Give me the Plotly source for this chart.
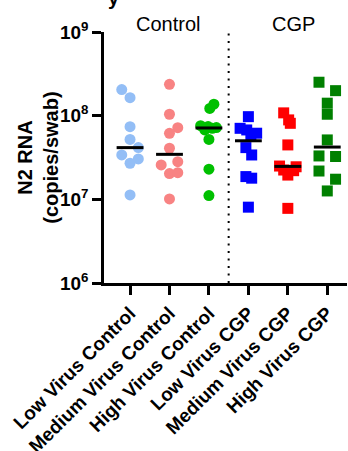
import numpy as np
import plotly.graph_objects as go

categories = ["Low Virus Control", "Medium Virus Control", "High Virus Control",
              "Low Virus CGP", "Medium Virus CGP", "High Virus CGP"]

low_control = [2.05e8, 1.64e8, 7.39e7, 5.2e7, 4.15e7, 3.39e7, 3.04e7, 2.70e7, 1.13e7]
medium_control = [2.37e8, 1.04e8, 7.19e7, 6.16e7, 4.08e7, 2.58e7, 2.82e7, 2.03e7, 2.08e7, 1.01e7]
high_control = [1.37e8, 1.22e8, 7.6e7, 7.4e7, 7.2e7, 7.06e7, 6.75e7, 5.2e7, 2.29e7, 1.11e7]
low_cgp = [9.73e7, 7.06e7, 6.75e7, 6.17e7, 5.87e7, 4.15e7, 3.39e7, 1.87e7, 1.79e7, 8.06e6]
medium_cgp = [1.08e8, 8.9e7, 8.1e7, 4.47e7, 2.5e7, 2.45e7, 2.24e7, 2.2e7, 1.95e7, 7.8e6]
high_cgp = [2.51e8, 1.99e8, 1.41e8, 1.04e8, 5.13e7, 3.3e7, 3.25e7, 2.18e7, 1.74e7, 1.26e7]

series = [low_control, medium_control, high_control, low_cgp, medium_cgp, high_cgp]

# horizontal dodge slots (layout)
slots = [
    [-1, 0, 0, 0, 1, -1, 1, 0, 0],
    [0, 0, 1, 0, 0, -1, 1, 0, 1, 0],
    [0.6, 0.1, -1, -0.1, 0.9, 0.4, -0.5, 0, 0, 0],
    [0, -1, -0.2, 1, 0.3, -0.3, 0.4, -0.3, 0.4, 0],
    [-0.5, 0.1, 0.3, 0, -1, 1, -0.5, 0.7, 0, 0],
    [-1, 1, 0, 0, 0, -1, 1, -1, 1, 0],
]
slot_w = 0.21

colors = ["#93BEF6", "#F88383", "#00C000", "#0000FF", "#FF0000", "#008000"]
symbols = ["circle", "circle", "circle", "square", "square", "square"]

fig = go.Figure()
for i, (vals, sl) in enumerate(zip(series, slots)):
    xs = [i + s * slot_w for s in sl]
    fig.add_trace(go.Scatter(
        x=xs, y=vals, mode="markers",
        marker=dict(symbol=symbols[i], size=11, color=colors[i], line=dict(width=0)),
        showlegend=False, hoverinfo="y"))
for i, vals in enumerate(series):
    med = float(np.median(vals))
    fig.add_trace(go.Scatter(
        x=[i - 0.34, i + 0.34], y=[med, med], mode="lines",
        line=dict(color="black", width=3), showlegend=False, hoverinfo="skip"))

fig.add_shape(type="line", xref="x", yref="paper", x0=2.5, x1=2.5, y0=0, y1=1.016,
              line=dict(color="black", width=2, dash="2px,5.5px"))

font_family = "Liberation Sans, Arial, sans-serif"
fig.add_annotation(text="Control", xref="x", yref="paper", x=0.95, y=1.032,
                   xanchor="center", yanchor="middle",
                   showarrow=False, font=dict(size=20, color="black", family=font_family))
fig.add_annotation(text="CGP", xref="x", yref="paper", x=4.15, y=1.032,
                   xanchor="center", yanchor="middle",
                   showarrow=False, font=dict(size=20, color="black", family=font_family))
fig.add_annotation(text="<b>N2 RNA</b><br><b>(copies/swab)</b>", xref="paper", yref="paper",
                   x=-0.275, y=0.5, xanchor="center", yanchor="middle",
                   textangle=-90, showarrow=False,
                   font=dict(size=20, color="black", family=font_family))
fig.add_annotation(text="<b>y</b>", xref="paper", yref="paper", x=0.01, y=1.084,
                   xanchor="left", yanchor="bottom", showarrow=False,
                   font=dict(size=20, color="black", family=font_family))

fig.update_layout(
    width=348, height=451,
    margin=dict(l=104, r=1, t=32, b=168, autoexpand=False),
    paper_bgcolor="white", plot_bgcolor="white",
    font=dict(family=font_family, color="black"),
    xaxis=dict(range=[-0.66, 5.5], tickmode="array", tickvals=list(range(6)),
               ticktext=["<b>%s</b>" % c for c in categories], tickangle=-45,
               showline=True, linecolor="black", linewidth=2.5,
               ticks="outside", ticklen=9, tickwidth=2.5, tickcolor="black",
               showgrid=False, zeroline=False, tickfont=dict(size=19),
               automargin=False),
    yaxis=dict(type="log", range=[6, 9], tickmode="array",
               tickvals=[1e6, 1e7, 1e8, 1e9],
               ticktext=["<b>10<sup>%d</sup></b>" % k for k in range(6, 10)],
               showline=True, linecolor="black", linewidth=2.5,
               ticks="outside", ticklen=9, tickwidth=2.5, tickcolor="black",
               showgrid=False, zeroline=False, tickfont=dict(size=19),
               automargin=False),
)

fig.write_html("out.html")
